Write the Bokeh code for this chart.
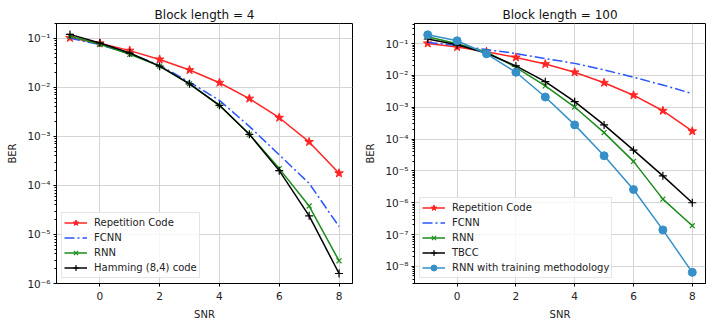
from bokeh.plotting import figure
from bokeh.layouts import row
from bokeh.models import (Range1d, FixedTicker, CustomJSTickFormatter, Legend, LegendItem)
from bokeh.embed import file_html
from bokeh.resources import INLINE

snr = [-1, 0, 1, 2, 3, 4, 5, 6, 7, 8]

# Block length = 4
rep_4 = [0.102, 0.079, 0.056, 0.037, 0.0225, 0.0124, 0.0059, 0.0024, 0.00077, 0.000177]
fcnn_4 = [0.100, 0.074, 0.049, 0.028, 0.0128, 0.0054, 0.0016, 0.00042, 0.00011, 0.0000145]
rnn_4 = [0.110, 0.075, 0.047, 0.027, 0.0118, 0.0043, 0.0011, 0.00022, 0.000038, 0.0000029]
ham_4 = [0.120, 0.080, 0.050, 0.027, 0.0118, 0.0043, 0.0011, 0.00020, 0.000024, 0.0000016]

# Block length = 100
rep_100 = [0.102, 0.078, 0.056, 0.037, 0.0228, 0.0126, 0.0059, 0.0024, 0.00078, 0.000177]
fcnn_100 = [0.110, 0.088, 0.065, 0.049, 0.034, 0.024, 0.015, 0.0088, 0.0050, 0.0027]
rnn_100 = [0.165, 0.100, 0.055, 0.018, 0.0047, 0.00102, 0.00016, 0.000020, 0.0000013, 0.00000019]
tbcc_100 = [0.140, 0.092, 0.050, 0.020, 0.0064, 0.0015, 0.00028, 0.000045, 0.0000070, 0.0000010]
rnnt_100 = [0.190, 0.123, 0.048, 0.0126, 0.0021, 0.00028, 0.000030, 0.0000026, 0.00000014, 0.0000000065]

x_ticks = [0, 2, 4, 6, 8]

RED = "#ff2424"
BLUE = "#2a55ff"
GREEN = "#1a8c1a"
BLACK = "#000000"
LBLUE = "#3590c8"
FONT = "DejaVu Sans"

fmt_code = """
const e = Math.round(Math.log10(tick));
const sup = {'-':'\\u207B','0':'\\u2070','1':'\\u00B9','2':'\\u00B2','3':'\\u00B3','4':'\\u2074','5':'\\u2075','6':'\\u2076','7':'\\u2077','8':'\\u2078','9':'\\u2079'};
return '10' + String(e).split('').map(c => sup[c]).join('');
"""


def make_fig(title, ylo, yhi, e_lo, e_hi, width, mb_left, mb_right):
    p = figure(width=width, height=322, x_range=Range1d(-1.45, 8.45),
               y_range=Range1d(ylo, yhi), y_axis_type="log",
               output_backend="svg", toolbar_location=None,
               min_border_left=mb_left, min_border_right=mb_right,
               min_border_top=23, min_border_bottom=36, title=title)
    p.title.text_font = FONT
    p.title.text_font_size = "12px"
    p.title.text_font_style = "normal"
    p.title.text_color = "#111111"
    p.title.align = "center"
    p.title.standoff = 3
    p.outline_line_color = "black"
    p.outline_line_alpha = 1
    p.outline_line_width = 1
    majors = [10.0 ** e for e in range(e_lo, e_hi + 1)]
    minors = [k * 10.0 ** e for e in range(e_lo - 1, e_hi + 1) for k in range(2, 10)]
    p.yaxis.ticker = FixedTicker(ticks=majors, minor_ticks=minors)
    p.yaxis.formatter = CustomJSTickFormatter(code=fmt_code)
    p.xaxis.ticker = FixedTicker(ticks=x_ticks, minor_ticks=[])
    p.ygrid.ticker = FixedTicker(ticks=majors)
    p.xgrid.ticker = FixedTicker(ticks=x_ticks)
    for g in (p.xgrid, p.ygrid):
        g.grid_line_color = "#d4d4d4"
        g.grid_line_width = 1
    for ax in (p.xaxis, p.yaxis):
        ax.axis_line_color = "black"
        ax.major_tick_line_color = "black"
        ax.minor_tick_line_color = "black"
        ax.major_tick_in = 0
        ax.major_tick_out = 3
        ax.minor_tick_in = 0
        ax.minor_tick_out = 2
        ax.major_label_text_font = FONT
        ax.major_label_text_font_size = "10.5px"
        ax.major_label_text_color = "#222222"
        ax.major_label_standoff = 3
        ax.axis_label_text_font = FONT
        ax.axis_label_text_font_size = "10px"
        ax.axis_label_text_font_style = "normal"
        ax.axis_label_text_color = "#222222"
    p.xaxis.major_label_standoff = 5
    p.xaxis.axis_label_standoff = 6
    p.yaxis.axis_label_standoff = 6
    p.xaxis.axis_label = "SNR"
    p.yaxis.axis_label = "BER"
    return p


def add_series(p, ys, label, color, marker=None, dash="solid", msize=8, items=None):
    r = p.line(snr, ys, line_color=color, line_width=1.5, line_dash=dash)
    rs = [r]
    if marker is not None:
        if marker in ("x", "cross"):
            s = p.scatter(snr, ys, marker=marker, size=msize, line_color=color, line_width=1.2)
        else:
            s = p.scatter(snr, ys, marker=marker, size=msize, fill_color=color, line_color=color)
        rs.append(s)
    items.append(LegendItem(label=label, renderers=rs))


def add_legend(p, items):
    leg = Legend(items=items, location="bottom_left", margin=5, padding=2, spacing=0,
                 label_height=15, glyph_height=15, glyph_width=23, label_standoff=7,
                 label_text_font=FONT, label_text_font_size="10px",
                 label_text_color="#222222", label_text_line_height=1.0,
                 border_line_color="#cccccc", border_line_width=1,
                 background_fill_alpha=0.8)
    p.add_layout(leg)


p1 = make_fig("Block length = 4", 1e-6, 0.2, -6, -1, 362, 56, 10)
it1 = []
add_series(p1, rep_4, "Repetition Code", RED, "star", msize=9, items=it1)
add_series(p1, fcnn_4, "FCNN", BLUE, None, dash="10 3 2 3", items=it1)
add_series(p1, rnn_4, "RNN", GREEN, "x", msize=7, items=it1)
add_series(p1, ham_4, "Hamming (8,4) code", BLACK, "cross", msize=8, items=it1)
add_legend(p1, it1)

p2 = make_fig("Block length = 100", 2.9e-9, 0.43, -8, -1, 358, 48, 15)
it2 = []
add_series(p2, rep_100, "Repetition Code", RED, "star", msize=9, items=it2)
add_series(p2, fcnn_100, "FCNN", BLUE, None, dash="10 3 2 3", items=it2)
add_series(p2, rnn_100, "RNN", GREEN, "x", msize=7, items=it2)
add_series(p2, tbcc_100, "TBCC", BLACK, "cross", msize=8, items=it2)
add_series(p2, rnnt_100, "RNN with training methodology", LBLUE, "circle", msize=8, items=it2)
add_legend(p2, it2)

layout = row(p1, p2)
open("out.html", "w", encoding="utf-8").write(file_html(layout, INLINE))
